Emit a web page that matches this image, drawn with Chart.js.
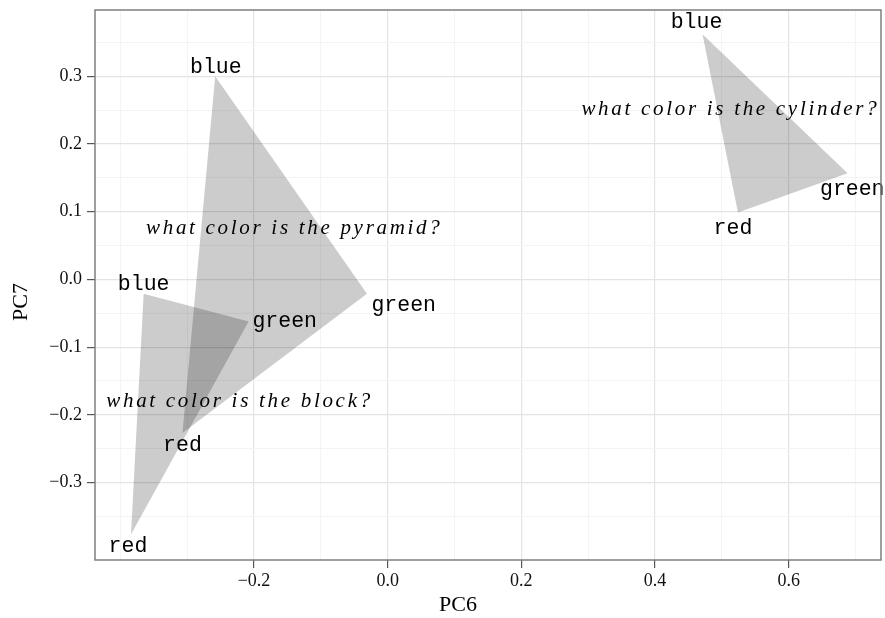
<!DOCTYPE html>
<html>
<head>
<meta charset="utf-8">
<script src="https://cdn.jsdelivr.net/npm/chart.js@4/dist/chart.umd.min.js"></script>
<style>
  html, body { margin: 0; padding: 0; background: #ffffff; }
  canvas { display: block; }
</style>
</head>
<body>
<canvas id="chart" width="885" height="618"></canvas>
<script>
// Questions and the three answer words whose embeddings form each triangle
const questions = ['what color is the pyramid?', 'what color is the block?', 'what color is the cylinder?'];
const answers = ['blue', 'green', 'red'];

// Triangle vertices (PC6, PC7), in the order of `answers`
const pyramidPC6 = [-0.258, -0.031, -0.307];
const pyramidPC7 = [0.300, -0.021, -0.227];
const blockPC6 = [-0.365, -0.208, -0.384];
const blockPC7 = [-0.021, -0.062, -0.377];
const cylinderPC6 = [0.471, 0.688, 0.524];
const cylinderPC7 = [0.362, 0.157, 0.099];

// Where each answer word is written (text baseline, centred), same order as `answers`
const pyramidLabelPC6 = [-0.257, 0.024, -0.307];
const pyramidLabelPC7 = [0.3055, -0.046, -0.253];
const blockLabelPC6 = [-0.365, -0.154, -0.3885];
const blockLabelPC7 = [-0.015, -0.0705, -0.403];
const cylinderLabelPC6 = [0.462, 0.695, 0.5165];
const cylinderLabelPC7 = [0.372, 0.124, 0.0675];

// Where each question is written, same order as `questions`
const questionPC6 = [-0.1417, -0.2235, 0.5108];
const questionPC7 = [0.0675, -0.1887, 0.2424];

// Axis ranges and grid
const xRange = [-0.4378, 0.738];
const yRange = [-0.4145, 0.398];
const xMajor = [-0.2, 0.0, 0.2, 0.4, 0.6];
const xMajorLabels = ['\u22120.2', '0.0', '0.2', '0.4', '0.6'];
const xMinor = [-0.4, -0.3, -0.1, 0.1, 0.3, 0.5, 0.7];
const yMajor = [-0.3, -0.2, -0.1, 0.0, 0.1, 0.2, 0.3];
const yMajorLabels = ['\u22120.3', '\u22120.2', '\u22120.1', '0.0', '0.1', '0.2', '0.3'];
const yMinor = [-0.35, -0.25, -0.15, -0.05, 0.05, 0.15, 0.25, 0.35];

const near = (a, b) => Math.abs(a - b) < 1e-9;
const majorIndex = (list, v) => list.findIndex(m => near(m, v));

function pointsOf(xs, ys) {
  return xs.map((x, i) => ({ x: x, y: ys[i] }));
}

const triangles = [
  { xs: pyramidPC6, ys: pyramidPC7 },
  { xs: blockPC6, ys: blockPC7 },
  { xs: cylinderPC6, ys: cylinderPC7 }
];

const answerLabels = [
  { xs: pyramidLabelPC6, ys: pyramidLabelPC7 },
  { xs: blockLabelPC6, ys: blockLabelPC7 },
  { xs: cylinderLabelPC6, ys: cylinderLabelPC7 }
];

const SERIF = '"Liberation Serif", "DejaVu Serif", serif';
const MONO = '"Liberation Mono", "DejaVu Sans Mono", monospace';

function gridFor(major) {
  return {
    color: ctx => majorIndex(major, ctx.tick.value) >= 0 ? '#e4e4e4' : '#f4f4f4',
    lineWidth: ctx => majorIndex(major, ctx.tick.value) >= 0 ? 1.2 : 1,
    tickColor: ctx => majorIndex(major, ctx.tick.value) >= 0 ? '#555555' : 'rgba(0,0,0,0)',
    tickLength: 8,
    tickWidth: 1.2,
    drawTicks: true
  };
}

// Text labels, panel frame and axis titles
const annotate = {
  id: 'annotate',
  afterDatasetsDraw(chart) {
    const { ctx, chartArea, scales } = chart;
    const sx = scales.x, sy = scales.y;
    ctx.save();
    ctx.fillStyle = '#000000';
    ctx.textAlign = 'center';
    ctx.textBaseline = 'alphabetic';

    ctx.font = '21.5px ' + MONO;
    answerLabels.forEach(set => {
      set.xs.forEach((v, i) => {
        ctx.fillText(answers[i], sx.getPixelForValue(v), sy.getPixelForValue(set.ys[i]));
      });
    });

    ctx.font = 'italic 21px ' + SERIF;
    ctx.letterSpacing = '2.7px';
    questions.forEach((q, i) => {
      ctx.fillText(q, sx.getPixelForValue(questionPC6[i]) + 1.3, sy.getPixelForValue(questionPC7[i]));
    });
    ctx.letterSpacing = '0px';

    // panel frame
    ctx.strokeStyle = '#7f7f7f';
    ctx.lineWidth = 1.5;
    ctx.strokeRect(chartArea.left, chartArea.top, chartArea.right - chartArea.left, chartArea.bottom - chartArea.top);

    // axis titles
    ctx.font = '22px ' + SERIF;
    ctx.fillText('PC6', 458, 611);
    ctx.translate(27, 302);
    ctx.rotate(-Math.PI / 2);
    ctx.fillText('PC7', 0, 0);
    ctx.restore();
  }
};

new Chart(document.getElementById('chart'), {
  type: 'scatter',
  data: {
    datasets: triangles.map((t, i) => ({
      label: questions[i],
      data: pointsOf(t.xs, t.ys),
      showLine: true,
      fill: 'shape',
      backgroundColor: 'rgba(0,0,0,0.2)',
      borderColor: 'rgba(0,0,0,0)',
      borderWidth: 0,
      pointRadius: 0,
      pointHoverRadius: 0,
      tension: 0
    }))
  },
  options: {
    responsive: false,
    animation: false,
    devicePixelRatio: 1,
    layout: { padding: { top: 10, right: 4, bottom: 0, left: 0 } },
    plugins: {
      legend: { display: false },
      tooltip: { enabled: false },
      title: { display: false }
    },
    scales: {
      x: {
        type: 'linear',
        min: xRange[0],
        max: xRange[1],
        afterBuildTicks: scale => {
          scale.ticks = xMinor.concat(xMajor).sort((a, b) => a - b).map(v => ({ value: v }));
        },
        afterFit: scale => {
          scale.height = 58;
          scale.paddingLeft = 0;
          scale.paddingRight = 0;
        },
        grid: gridFor(xMajor),
        border: { display: false },
        ticks: {
          autoSkip: false,
          maxRotation: 0,
          padding: 2,
          color: '#111111',
          font: { family: SERIF, size: 18 },
          callback: v => {
            const k = majorIndex(xMajor, v);
            return k >= 0 ? xMajorLabels[k] : '';
          }
        }
      },
      y: {
        type: 'linear',
        min: yRange[0],
        max: yRange[1],
        afterBuildTicks: scale => {
          scale.ticks = yMinor.concat(yMajor).sort((a, b) => a - b).map(v => ({ value: v }));
        },
        afterFit: scale => {
          scale.width = 95;
          scale.paddingTop = 0;
          scale.paddingBottom = 0;
        },
        grid: gridFor(yMajor),
        border: { display: false },
        ticks: {
          autoSkip: false,
          padding: 5,
          color: '#111111',
          font: { family: SERIF, size: 18 },
          callback: v => {
            const k = majorIndex(yMajor, v);
            return k >= 0 ? yMajorLabels[k] : '';
          }
        }
      }
    }
  },
  plugins: [annotate]
});
</script>
</body>
</html>
